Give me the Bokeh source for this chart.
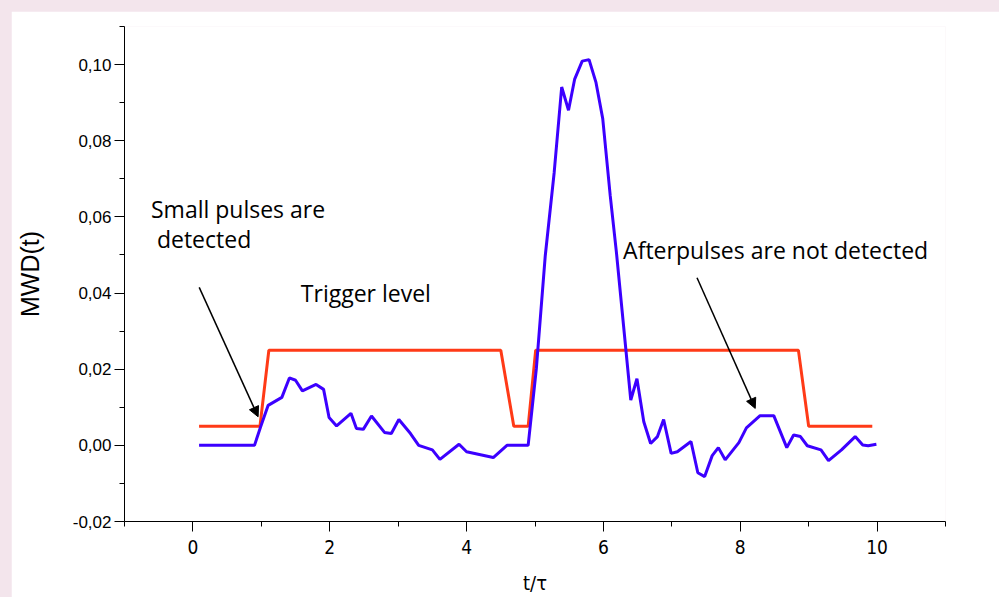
from bokeh.plotting import figure
from bokeh.layouts import column
from bokeh.models import (ColumnDataSource, FixedTicker, Label, Arrow, NormalHead,
                          Range1d)
from bokeh.embed import file_html
from bokeh.resources import INLINE

# ---------------- data ----------------
t_mwd = [0.09, 0.90, 0.99, 1.10, 1.30, 1.41, 1.50, 1.60, 1.80, 1.91, 1.99, 2.10,
         2.31, 2.39, 2.49, 2.61, 2.80, 2.90, 3.01, 3.18, 3.30, 3.50, 3.61, 3.89,
         4.00, 4.39, 4.59, 4.90, 5.02, 5.15, 5.28, 5.39, 5.49, 5.58, 5.69, 5.79,
         5.89, 5.99, 6.10, 6.19, 6.40, 6.49, 6.59, 6.69, 6.79, 6.88, 6.99, 7.08,
         7.28, 7.38, 7.48, 7.59, 7.68, 7.78, 7.98, 8.09, 8.29, 8.49, 8.68, 8.78,
         8.88, 8.98, 9.18, 9.29, 9.48, 9.68, 9.79, 9.87, 9.99]
mwd = [0.0, 0.0, 0.0049, 0.0105, 0.0126, 0.0177, 0.0171, 0.0143, 0.0160, 0.0147,
       0.0073, 0.0051, 0.0084, 0.0044, 0.0042, 0.0077, 0.0034, 0.0031, 0.0068,
       0.0031, 0.0, -0.0012, -0.0037, 0.0003, -0.0017, -0.0032, 0.0, 0.0, 0.0202,
       0.0498, 0.0716, 0.0941, 0.0880, 0.0962, 0.1009, 0.1013, 0.0954, 0.0858,
       0.0655, 0.0507, 0.0119, 0.0175, 0.0062, 0.0005, 0.0023, 0.0068, -0.0021,
       -0.0017, 0.0010, -0.0072, -0.0082, -0.0027, -0.0006, -0.0038, 0.0007,
       0.0046, 0.0078, 0.0078, -0.0006, 0.0027, 0.0023, -0.0001, -0.0012, -0.0040,
       -0.0012, 0.0023, 0.0001, -0.0001, 0.0003]

t_trigger = [0.09, 0.98, 1.11, 4.50, 4.69, 4.90, 5.01, 8.85, 9.00, 9.93]
trigger = [0.005, 0.005, 0.025, 0.025, 0.005, 0.005, 0.025, 0.025, 0.005, 0.005]

x_ticks = [0, 2, 4, 6, 8, 10]
x_tick_labels = ["0", "2", "4", "6", "8", "10"]
x_minor_ticks = [-1, 1, 3, 5, 7, 9, 11]
y_ticks = [-0.02, 0.0, 0.02, 0.04, 0.06, 0.08, 0.10]
y_tick_labels = ["-0,02", "0,00", "0,02", "0,04", "0,06", "0,08", "0,10"]
y_minor_ticks = [-0.01, 0.01, 0.03, 0.05, 0.07, 0.09, 0.11]

PINK = "#f3e5ec"
BLUE = "#3c00ff"
RED = "#ff3a17"

p = figure(width=988, height=586, output_backend="svg", toolbar_location=None,
           x_range=Range1d(-1, 11), y_range=Range1d(-0.02, 0.11),
           min_border_left=113, min_border_right=54, min_border_top=15,
           min_border_bottom=60)
p.margin = (11, 0, 0, 11)
p.grid.visible = False
p.outline_line_color = None
p.background_fill_color = "white"
p.border_fill_color = "white"

src_mwd = ColumnDataSource(dict(t=t_mwd, y=mwd))
src_trig = ColumnDataSource(dict(t=t_trigger, y=trigger))
p.line("t", "y", source=src_trig, line_color=RED, line_width=3)
p.line("t", "y", source=src_mwd, line_color=BLUE, line_width=3)

# axes
for ax in (p.xaxis[0], p.yaxis[0]):
    ax.axis_line_color = "black"
    ax.axis_line_width = 1
    ax.major_tick_line_color = "black"
    ax.minor_tick_line_color = "black"
    ax.major_tick_out = 10
    ax.major_tick_in = 0
    ax.minor_tick_out = 5
    ax.minor_tick_in = 0
    ax.major_label_text_color = "black"
    ax.axis_label_text_color = "black"
    ax.axis_label_text_font_style = "normal"

p.xaxis.ticker = FixedTicker(ticks=x_ticks, minor_ticks=x_minor_ticks)
p.xaxis.major_label_overrides = {v: s for v, s in zip(x_ticks, x_tick_labels)}
p.xaxis.major_label_text_font = "'Liberation Sans Narrow', 'DejaVu Sans Condensed', sans-serif"
p.xaxis.major_label_text_font_size = "19px"
p.xaxis.major_label_standoff = 8
p.xaxis.axis_label = "t/τ"
p.xaxis.axis_label_text_font = "'Liberation Sans Narrow', 'DejaVu Sans Condensed', sans-serif"
p.xaxis.axis_label_text_font_size = "20px"
p.xaxis.axis_label_standoff = 14

p.yaxis.ticker = FixedTicker(ticks=y_ticks, minor_ticks=y_minor_ticks)
p.yaxis.major_label_overrides = {v: s for v, s in zip(y_ticks, y_tick_labels)}
p.yaxis.major_label_text_font = "Liberation Sans"
p.yaxis.major_label_text_font_size = "17px"
p.yaxis.major_label_standoff = 3
p.yaxis.axis_label = "MWD(t)"
p.yaxis.axis_label_text_font = "Liberation Sans"
p.yaxis.axis_label_text_font_size = "25px"
p.yaxis.axis_label_standoff = 26

# annotations
FONT = "Open Sans"
for x, y, txt in [(-0.613, 0.0620, "Small pulses are"),
                  (-0.526, 0.0541, "detected"),
                  (1.577, 0.0399, "Trigger level"),
                  (6.288, 0.0512, "Afterpulses are not detected")]:
    p.add_layout(Label(x=x, y=y, text=txt, text_font=FONT, text_font_size="23px",
                       text_color="black", text_baseline="alphabetic"))

for xs, ys, xe, ye in [(0.092, 0.0415, 0.953, 0.0075),
                       (7.368, 0.0440, 8.219, 0.0097)]:
    p.add_layout(Arrow(x_start=xs, y_start=ys, x_end=xe, y_end=ye,
                       line_color="black", line_width=1.5,
                       end=NormalHead(size=10, fill_color="black",
                                      line_color="black")))

page = column(p, styles={"background-color": PINK})
open("out.html", "w").write(file_html(page, INLINE))
